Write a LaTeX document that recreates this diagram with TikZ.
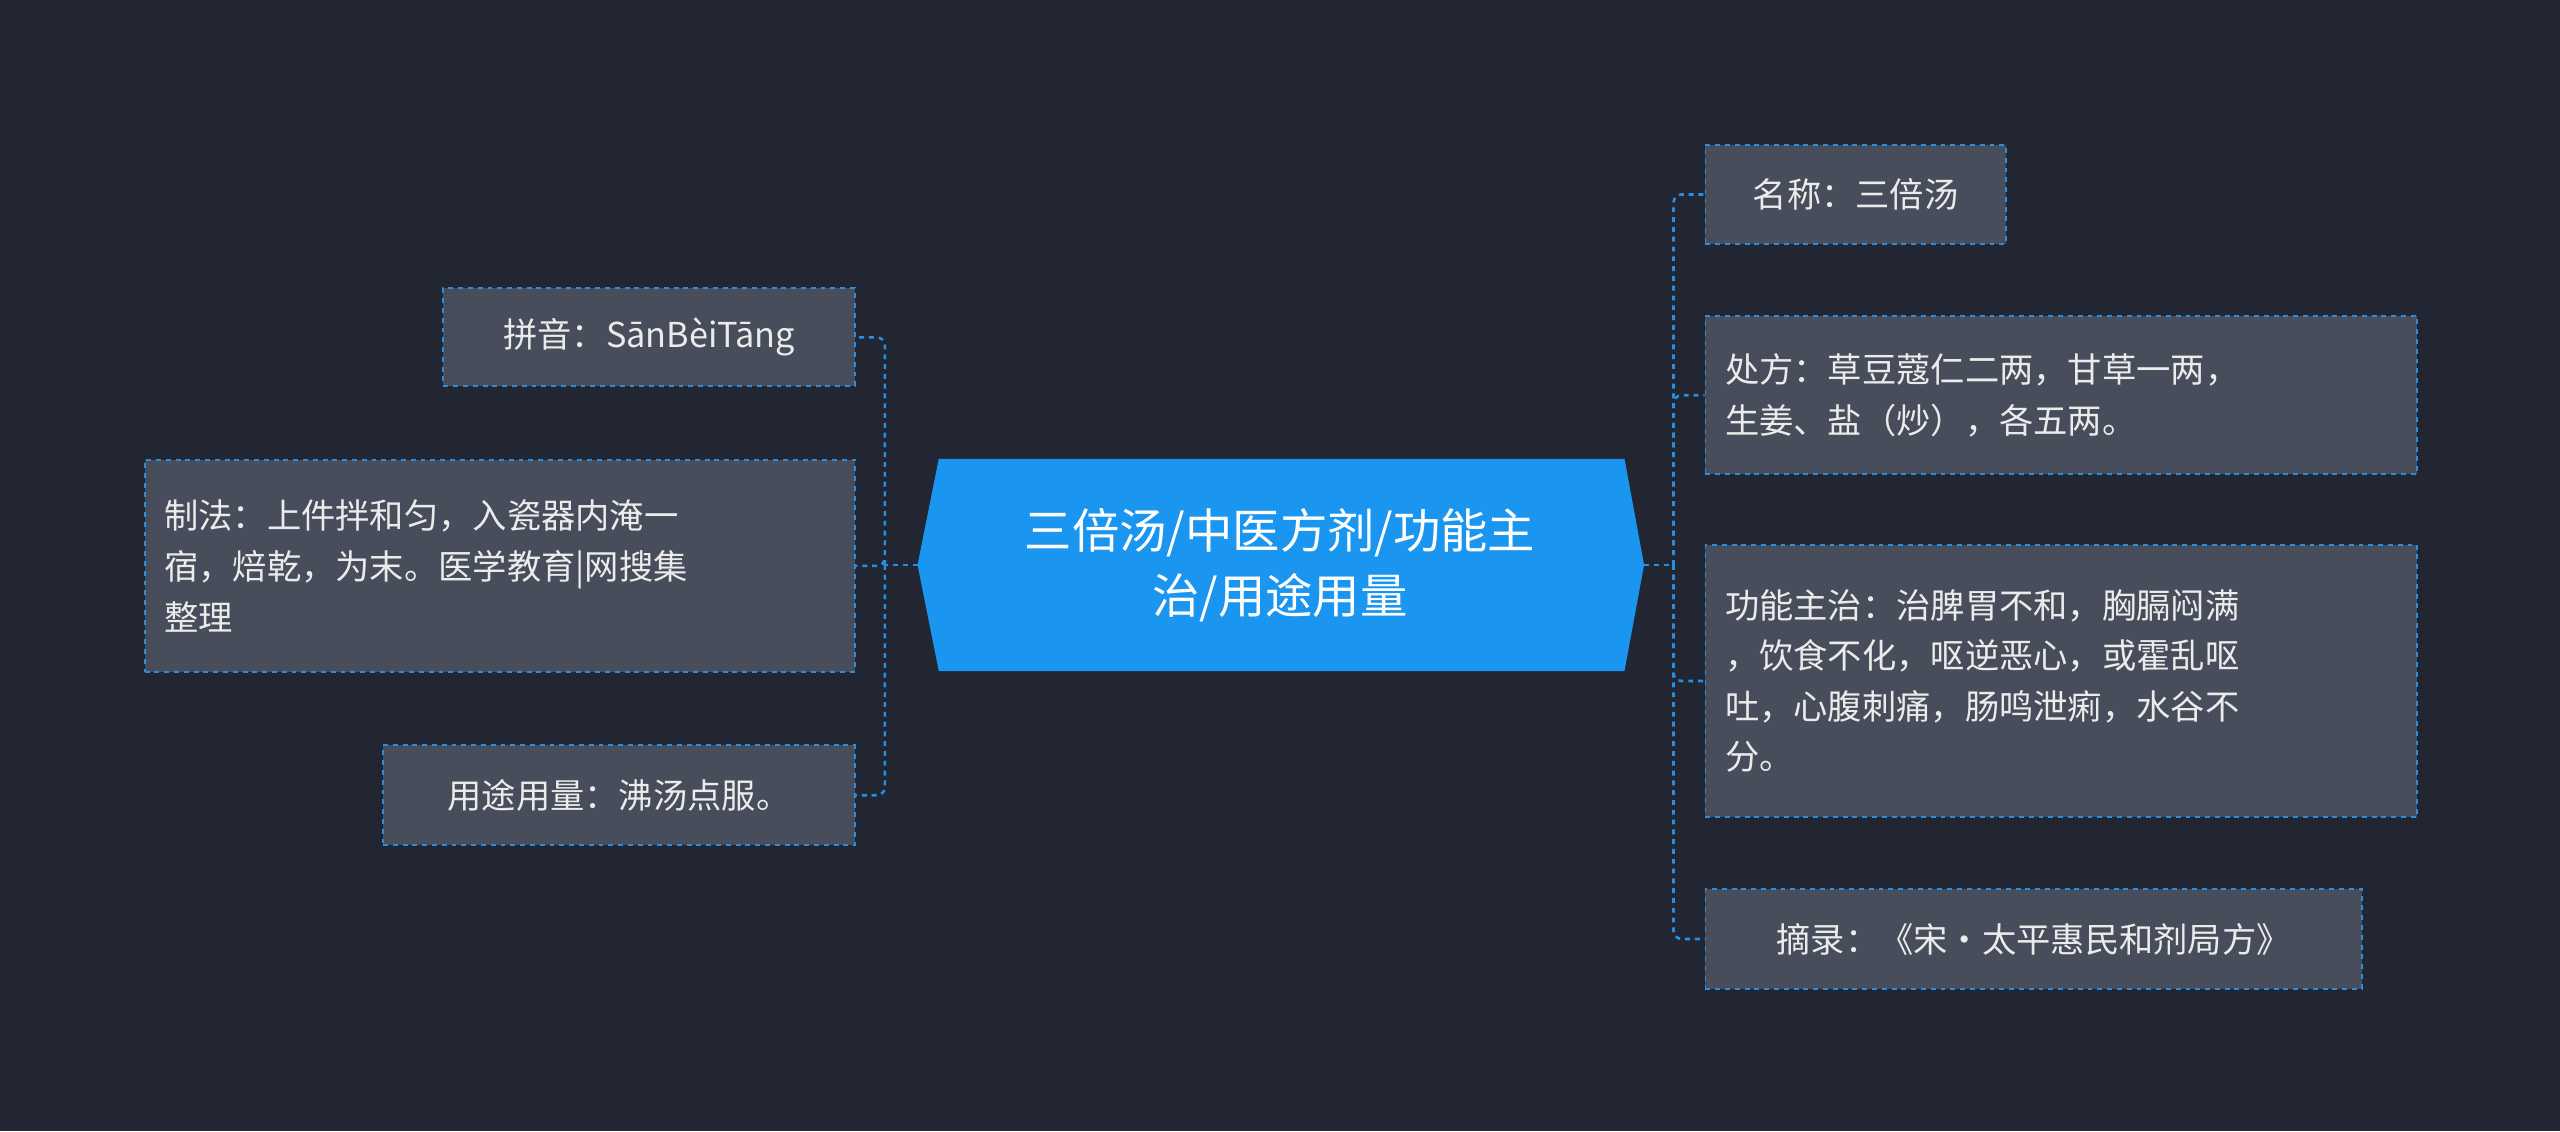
\documentclass[tikz,border=0pt]{standalone}
\usepackage{fontspec}
\setmainfont{Noto Sans CJK SC}
\definecolor{bg}{HTML}{222632}
\definecolor{leaf}{HTML}{474D5B}
\definecolor{ln}{HTML}{2A8EE0}
\definecolor{ctr}{HTML}{1A95F0}
\begin{document}
\begin{tikzpicture}[x=1pt,y=-1pt,
  leafbox/.style={draw=ln,dashed,line width=1.2pt,fill=leaf,text=white!92!black,font=\fontsize{21}{31}\selectfont,align=left,anchor=north west,inner xsep=12pt,inner ysep=0pt},
  conn/.style={draw=ln,dashed,line width=1.6pt,rounded corners=5pt}]
\fill[bg] (0,0) rectangle (1568,693);
\useasboundingbox (0,0) rectangle (1568,693);
\fill[ctr] (562,346) -- (575,281) -- (995,281) -- (1007,346) -- (995,411) -- (575,411) -- cycle;
\node[text=white,font=\fontsize{29}{40}\selectfont,align=center] (c) at (784,346) {三倍汤/中医方剂/功能主\\治/用途用量};
\coordinate (cr) at (1007,346);
\coordinate (cl) at (562,346);
% right
\node[leafbox,minimum width=184pt,minimum height=61pt] (r1) at (1044,88) {名称：三倍汤};
\node[leafbox,minimum width=436pt,minimum height=97pt,text width=412pt] (r2) at (1044,193) {处方：草豆蔻仁二两，甘草一两，\\生姜、盐（炒），各五两。};
\node[leafbox,minimum width=436pt,minimum height=167pt,text width=412pt] (r3) at (1044,333) {功能主治：治脾胃不和，胸膈闷满\\，饮食不化，呕逆恶心，或霍乱呕\\吐，心腹刺痛，肠鸣泄痢，水谷不\\分。};
\node[leafbox,minimum width=402pt,minimum height=61pt] (r4) at (1044,544) {摘录：《宋·太平惠民和剂局方》};
% left
\node[leafbox,minimum width=252pt,minimum height=60pt] (l1) at (271,176) {拼音：SānBèiTāng};
\node[leafbox,minimum width=435pt,minimum height=130pt,text width=411pt] (l2) at (88,281) {制法：上件拌和匀，入瓷器内淹一\\宿，焙乾，为末。医学教育|网搜集\\整理};
\node[leafbox,minimum width=289pt,minimum height=61pt] (l3) at (234,456) {用途用量：沸汤点服。};
\coordinate (rt) at (1025,346);
\coordinate (lt) at (542,346);
\draw[conn] (cr) -- (rt);
\foreach \n in {r1,r2,r3,r4} \draw[conn] (rt) |- (\n.west);
\draw[conn] (cl) -- (lt);
\foreach \n in {l1,l2,l3} \draw[conn] (lt) |- (\n.east);
\end{tikzpicture}
\end{document}
